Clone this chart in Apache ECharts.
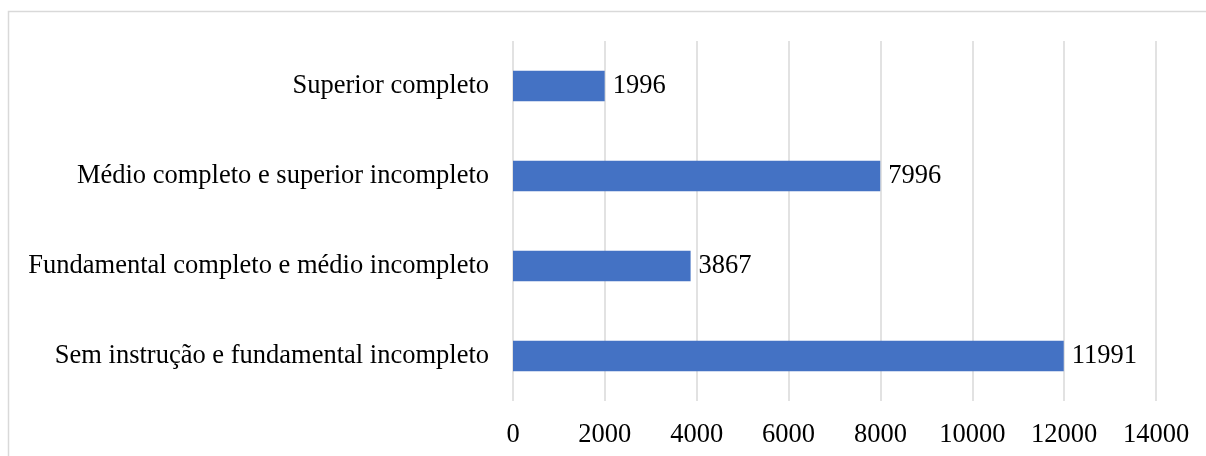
<!DOCTYPE html>
<html><head><meta charset="utf-8">
<script src="https://cdn.jsdelivr.net/npm/echarts@6/dist/echarts.min.js"></script>
<style>html,body{margin:0;padding:0;background:#fff}#c{width:1206px;height:456px}</style>
</head><body><div id="c"></div>
<script>
const categories = ["Sem instrução e fundamental incompleto", "Fundamental completo e médio incompleto", "Médio completo e superior incompleto", "Superior completo"];
const values = [11991, 3867, 7996, 1996];
const xTicks = {min: 0, max: 14000, interval: 2000};
const FONT = "'Liberation Serif', 'Times New Roman', serif";
const chart = echarts.init(document.getElementById('c'), null, {renderer: 'canvas'});
chart.setOption({
  animation: false,
  graphic: [{type: 'rect', shape: {x: 8.5, y: 11.5, width: 1300, height: 600}, style: {fill: 'none', stroke: '#d9d9d9', lineWidth: 1.5}, z: -1}],
  grid: {left: 513, right: 50, top: 41, bottom: 55},
  xAxis: {
    type: 'value', min: xTicks.min, max: xTicks.max, interval: xTicks.interval,
    axisLine: {show: false}, axisTick: {show: false},
    splitLine: {lineStyle: {color: '#d9d9d9', width: 1.5}},
    axisLabel: {color: '#000', fontFamily: FONT, fontSize: 26.5, margin: 21, formatter: v => String(v)}
  },
  yAxis: {
    type: 'category', data: categories,
    axisLine: {show: false}, axisTick: {show: false},
    axisLabel: {color: '#000', fontFamily: FONT, fontSize: 26.5, margin: 24}
  },
  series: [{
    type: 'bar', data: values, barWidth: '34%',
    itemStyle: {color: '#4472C4'},
    label: {show: true, position: 'right', distance: 8, color: '#000', fontFamily: FONT, fontSize: 26.5}
  }]
});
</script></body></html>
